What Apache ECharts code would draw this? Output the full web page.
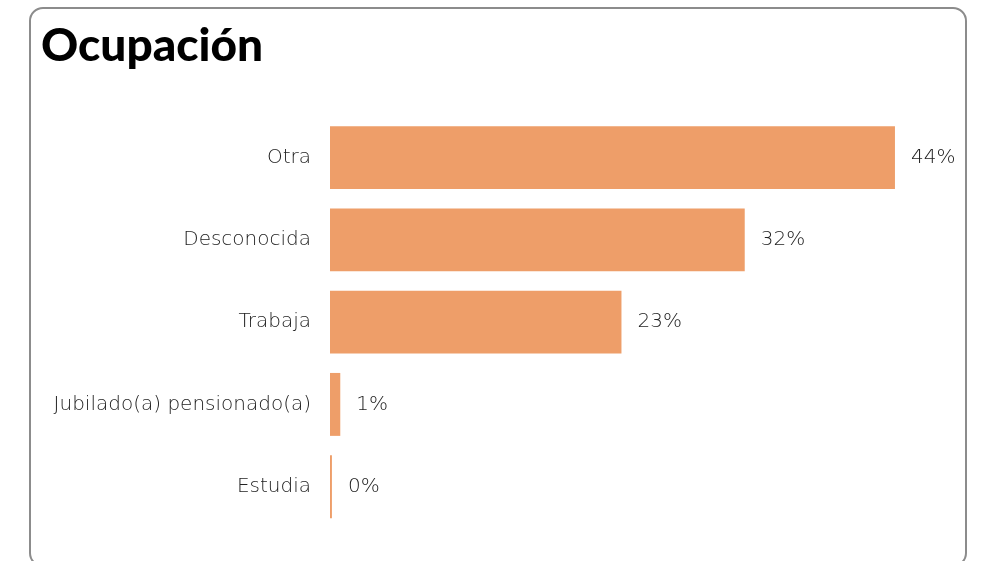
<!DOCTYPE html>
<html><head><meta charset="utf-8">
<script src="https://cdn.jsdelivr.net/npm/echarts@6/dist/echarts.min.js"></script>
<style>
html,body{margin:0;padding:0;background:#fff;width:989px;height:561px;overflow:hidden}
#frame{position:absolute;left:29px;top:7px;width:938px;height:560px;border:2px solid #8c8c8c;border-radius:14px;box-sizing:border-box}
#chart{position:absolute;left:0;top:0;width:989px;height:561px}
</style></head>
<body>
<div id="frame"></div>
<div id="chart"></div>
<script>
const titleText = "Ocupación";
const categories = ["Otra", "Desconocida", "Trabaja", "Jubilado(a) pensionado(a)", "Estudia"];
const values = [44.0, 32.3, 22.7, 0.8, 0.15];

const chart = echarts.init(document.getElementById('chart'), null, {renderer: 'canvas'});
chart.setOption({
  animation: false,
  title: {
    text: titleText, left: 36, top: 18,
    textStyle: {fontFamily: 'Lato', fontWeight: 900, fontSize: 46, color: '#000'}
  },
  grid: {left: 330, top: 116.5, width: 642, height: 411.3, containLabel: false},
  xAxis: {type: 'value', min: 0, max: 50, show: false},
  yAxis: {
    type: 'category', data: categories, inverse: true,
    axisLine: {show: false}, axisTick: {show: false},
    axisLabel: {margin: 19, padding: [3, 0, 0, 0], fontFamily: 'DejaVu Sans', fontWeight: 200, fontSize: 20, color: '#222'}
  },
  series: [{
    type: 'bar', data: values, barCategoryGap: '23.5%',
    itemStyle: {color: '#EE9E69'},
    label: {
      show: true, position: 'right', distance: 16, padding: [3, 0, 0, 0],
      fontFamily: 'DejaVu Sans', fontWeight: 200, fontSize: 20, color: '#222',
      formatter: p => Math.round(p.value) + '%'
    }
  }]
});
</script>
</body></html>
